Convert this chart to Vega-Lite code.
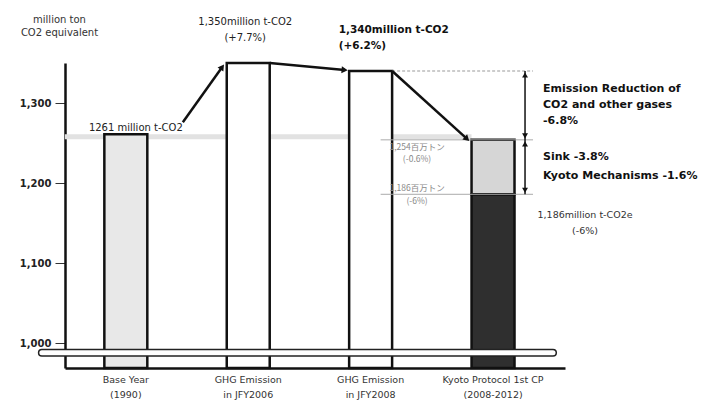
{
  "$schema": "https://vega.github.io/schema/vega-lite/v6.json",
  "width": 500,
  "height": 305,
  "autosize": {"type": "none"},
  "padding": {"left": 65, "top": 63, "right": 146, "bottom": 39},
  "background": "white",
  "config": {
    "view": {"stroke": null},
    "font": "DejaVu Sans"
  },
  "layer": [
    {
      "description": "faint band at the base-year level",
      "data": {"values": [{"level": 1258}]},
      "mark": {"type": "rule", "color": "#e2e2e2", "strokeWidth": 5, "xOffset": -61, "x2Offset": -21.5},
      "encoding": {
        "x": {"datum": "base", "type": "nominal"},
        "x2": {"datum": "kyoto"},
        "y": {"field": "level", "type": "quantitative"}
      }
    },
    {
      "description": "emission bars",
      "data": {
        "values": [
          {"cat": "base", "value": 1261, "part": "base"},
          {"cat": "fy2006", "value": 1350, "part": "actual"},
          {"cat": "fy2008", "value": 1340, "part": "actual"},
          {"cat": "kyoto", "value": 1186, "part": "target"}
        ]
      },
      "mark": {"type": "bar", "stroke": "#111", "strokeWidth": 2.5},
      "encoding": {
        "x": {
          "field": "cat",
          "type": "nominal",
          "sort": null,
          "scale": {
            "domain": ["base", "fy2006", "fy2008", "kyoto"],
            "paddingInner": 0.649,
            "paddingOuter": 0.367,
            "align": 0.438
          },
          "axis": {
            "title": null,
            "ticks": false,
            "labelAngle": 0,
            "labelAlign": "center",
            "labelBaseline": "top",
            "labelExpr": "datum.value == 'base' ? ['Base Year', '(1990)'] : datum.value == 'fy2006' ? ['GHG Emission', 'in JFY2006'] : datum.value == 'fy2008' ? ['GHG Emission', 'in JFY2008'] : ['Kyoto Protocol 1st CP', '(2008-2012)']",
            "labelFont": "DejaVu Sans",
            "labelFontSize": 9.5,
            "labelColor": "#333",
            "labelPadding": 6,
            "labelLineHeight": 15,
            "domainColor": "#111",
            "domainWidth": 2.5
          }
        },
        "y": {
          "field": "value",
          "type": "quantitative",
          "scale": {"domain": [969, 1350], "zero": false, "nice": false},
          "axis": {
            "values": [1000, 1100, 1200, 1300],
            "format": ",.0f",
            "grid": false,
            "labelFont": "DejaVu Sans",
            "labelFontSize": 10,
            "labelFontWeight": "bold",
            "labelColor": "#222",
            "labelPadding": 4,
            "tickSize": 10,
            "tickColor": "#333",
            "tickWidth": 1,
            "domainColor": "#111",
            "domainWidth": 2.5,
            "title": ["million ton", "CO2 equivalent"],
            "titleAngle": 0,
            "titleAlign": "center",
            "titleBaseline": "top",
            "titleX": -6,
            "titleY": -49,
            "titleFont": "DejaVu Sans",
            "titleFontSize": 10,
            "titleFontWeight": "normal",
            "titleColor": "#333",
            "titleLineHeight": 13
          }
        },
        "y2": {"datum": 969},
        "fill": {
          "field": "part",
          "type": "nominal",
          "scale": {"domain": ["base", "actual", "target"], "range": ["#e8e8e8", "#ffffff", "#2f2f2f"]},
          "legend": null
        }
      }
    },
    {
      "description": "sinks and Kyoto mechanisms segment",
      "data": {"values": [{"cat": "kyoto", "from": 1186, "to": 1254}]},
      "mark": {"type": "bar", "fill": "#d6d6d6", "stroke": "#111", "strokeWidth": 2.5},
      "encoding": {
        "x": {"field": "cat", "type": "nominal"},
        "y": {"field": "to", "type": "quantitative"},
        "y2": {"field": "from"}
      }
    },
    {
      "description": "dashed guide at the 2008 level",
      "data": {"values": [{"level": 1340}]},
      "mark": {"type": "rule", "color": "#999", "strokeWidth": 1, "strokeDash": [3, 2], "xOffset": 21.5, "x2Offset": 40},
      "encoding": {
        "x": {"datum": "fy2008", "type": "nominal"},
        "x2": {"datum": "kyoto"},
        "y": {"field": "level", "type": "quantitative"}
      }
    },
    {
      "description": "thin guides at the target levels",
      "data": {"values": [{"level": 1254}, {"level": 1186}]},
      "mark": {"type": "rule", "color": "#aaa", "strokeWidth": 1, "xOffset": 10, "x2Offset": 40},
      "encoding": {
        "x": {"datum": "fy2008", "type": "nominal"},
        "x2": {"datum": "kyoto"},
        "y": {"field": "level", "type": "quantitative"}
      }
    },
    {
      "description": "arrow from the base-year label",
      "data": {"values": [{"from": "base", "v0": 1261, "to": "fy2006", "v1": 1350}]},
      "mark": {"type": "rule", "color": "#111", "strokeWidth": 2.5, "xOffset": 57, "yOffset": -12, "x2Offset": -26, "y2Offset": 4},
      "encoding": {
        "x": {"field": "from", "type": "nominal"},
        "x2": {"field": "to"},
        "y": {"field": "v0", "type": "quantitative"},
        "y2": {"field": "v1"}
      }
    },
    {
      "description": "connectors between bar tops",
      "data": {
        "values": [
          {"from": "fy2006", "v0": 1350, "to": "fy2008", "v1": 1340},
          {"from": "fy2008", "v0": 1340, "to": "kyoto", "v1": 1254}
        ]
      },
      "mark": {"type": "rule", "color": "#111", "strokeWidth": 2.5, "xOffset": 21.5, "x2Offset": -26, "y2Offset": -1},
      "encoding": {
        "x": {"field": "from", "type": "nominal"},
        "x2": {"field": "to"},
        "y": {"field": "v0", "type": "quantitative"},
        "y2": {"field": "v1"}
      }
    },
    {
      "data": {"values": [{"cat": "fy2006", "v": 1350}]},
      "mark": {"type": "point", "shape": "triangle-up", "filled": true, "opacity": 1, "color": "#111", "size": 50, "angle": 35, "xOffset": -26, "yOffset": 4},
      "encoding": {
        "x": {"field": "cat", "type": "nominal"},
        "y": {"field": "v", "type": "quantitative"}
      }
    },
    {
      "data": {"values": [{"cat": "fy2008", "v": 1340}]},
      "mark": {"type": "point", "shape": "triangle-up", "filled": true, "opacity": 1, "color": "#111", "size": 50, "angle": 95, "xOffset": -26, "yOffset": -1},
      "encoding": {
        "x": {"field": "cat", "type": "nominal"},
        "y": {"field": "v", "type": "quantitative"}
      }
    },
    {
      "data": {"values": [{"cat": "kyoto", "v": 1254}]},
      "mark": {"type": "point", "shape": "triangle-up", "filled": true, "opacity": 1, "color": "#111", "size": 50, "angle": 132, "xOffset": -26, "yOffset": -1},
      "encoding": {
        "x": {"field": "cat", "type": "nominal"},
        "y": {"field": "v", "type": "quantitative"}
      }
    },
    {
      "description": "reduction brackets beside the target bar",
      "data": {"values": [{"cat": "kyoto", "top": 1340, "bottom": 1186}]},
      "mark": {"type": "rule", "color": "#111", "strokeWidth": 1.5, "xOffset": 32},
      "encoding": {
        "x": {"field": "cat", "type": "nominal"},
        "y": {"field": "top", "type": "quantitative"},
        "y2": {"field": "bottom"}
      }
    },
    {
      "data": {"values": [{"cat": "kyoto", "v": 1340}, {"cat": "kyoto", "v": 1254}]},
      "mark": {"type": "point", "shape": "triangle-up", "filled": true, "opacity": 1, "color": "#111", "size": 35, "xOffset": 32, "yOffset": 4},
      "encoding": {
        "x": {"field": "cat", "type": "nominal"},
        "y": {"field": "v", "type": "quantitative"}
      }
    },
    {
      "data": {"values": [{"cat": "kyoto", "v": 1254}, {"cat": "kyoto", "v": 1186}]},
      "mark": {"type": "point", "shape": "triangle-down", "filled": true, "opacity": 1, "color": "#111", "size": 35, "xOffset": 32, "yOffset": -4},
      "encoding": {
        "x": {"field": "cat", "type": "nominal"},
        "y": {"field": "v", "type": "quantitative"}
      }
    },
    {
      "data": {"values": [{"cat": "base", "v": 1261, "label": "1261 million t-CO2"}]},
      "mark": {"type": "text", "font": "DejaVu Sans", "fontSize": 10, "color": "#222", "align": "center", "baseline": "alphabetic", "dx": 10, "dy": -3},
      "encoding": {
        "x": {"field": "cat", "type": "nominal"},
        "y": {"field": "v", "type": "quantitative"},
        "text": {"field": "label"}
      }
    },
    {
      "data": {"values": [{"cat": "fy2006", "v": 1350, "label": "1,350million t-CO2\n(+7.7%)"}]},
      "mark": {"type": "text", "font": "DejaVu Sans", "fontSize": 10, "color": "#222", "align": "center", "baseline": "alphabetic", "lineBreak": "\n", "lineHeight": 16, "dx": -3, "dy": -38},
      "encoding": {
        "x": {"field": "cat", "type": "nominal"},
        "y": {"field": "v", "type": "quantitative"},
        "text": {"field": "label"}
      }
    },
    {
      "data": {"values": [{"cat": "fy2008", "v": 1340, "label": "1,340million t-CO2\n(+6.2%)"}]},
      "mark": {"type": "text", "font": "DejaVu Sans", "fontSize": 10.5, "fontWeight": "bold", "color": "#111", "align": "left", "baseline": "alphabetic", "lineBreak": "\n", "lineHeight": 16, "dx": -32, "dy": -38},
      "encoding": {
        "x": {"field": "cat", "type": "nominal"},
        "y": {"field": "v", "type": "quantitative"},
        "text": {"field": "label"}
      }
    },
    {
      "data": {"values": [{"cat": "kyoto", "v": 1340, "label": "Emission Reduction of\nCO2 and other gases\n-6.8%"}]},
      "mark": {"type": "text", "font": "DejaVu Sans", "fontSize": 11, "fontWeight": "bold", "color": "#111", "align": "left", "baseline": "alphabetic", "lineBreak": "\n", "lineHeight": 16, "dx": 50, "dy": 21},
      "encoding": {
        "x": {"field": "cat", "type": "nominal"},
        "y": {"field": "v", "type": "quantitative"},
        "text": {"field": "label"}
      }
    },
    {
      "data": {"values": [{"cat": "kyoto", "v": 1254, "label": "Sink -3.8%\nKyoto Mechanisms -1.6%"}]},
      "mark": {"type": "text", "font": "DejaVu Sans", "fontSize": 11, "fontWeight": "bold", "color": "#111", "align": "left", "baseline": "alphabetic", "lineBreak": "\n", "lineHeight": 19, "dx": 50, "dy": 20},
      "encoding": {
        "x": {"field": "cat", "type": "nominal"},
        "y": {"field": "v", "type": "quantitative"},
        "text": {"field": "label"}
      }
    },
    {
      "data": {"values": [{"cat": "kyoto", "v": 1186, "label": "1,186million t-CO2e\n(-6%)"}]},
      "mark": {"type": "text", "font": "DejaVu Sans", "fontSize": 9.5, "color": "#333", "align": "center", "baseline": "alphabetic", "lineBreak": "\n", "lineHeight": 16, "dx": 92, "dy": 24},
      "encoding": {
        "x": {"field": "cat", "type": "nominal"},
        "y": {"field": "v", "type": "quantitative"},
        "text": {"field": "label"}
      }
    },
    {
      "data": {"values": [{"cat": "kyoto", "v": 1254, "label": "1,254百万トン\n(-0.6%)"}]},
      "mark": {"type": "text", "font": "Noto Sans CJK JP", "fontSize": 8.5, "color": "#888", "align": "center", "baseline": "alphabetic", "lineBreak": "\n", "lineHeight": 12, "dx": -76, "dy": 10},
      "encoding": {
        "x": {"field": "cat", "type": "nominal"},
        "y": {"field": "v", "type": "quantitative"},
        "text": {"field": "label"}
      }
    },
    {
      "data": {"values": [{"cat": "kyoto", "v": 1186, "label": "1,186百万トン\n(-6%)"}]},
      "mark": {"type": "text", "font": "Noto Sans CJK JP", "fontSize": 8.5, "color": "#888", "align": "center", "baseline": "alphabetic", "lineBreak": "\n", "lineHeight": 13, "dx": -76, "dy": -3},
      "encoding": {
        "x": {"field": "cat", "type": "nominal"},
        "y": {"field": "v", "type": "quantitative"},
        "text": {"field": "label"}
      }
    },
    {
      "description": "axis break: dark outline",
      "data": {"values": [{"v": 988}]},
      "mark": {"type": "rule", "color": "#222", "strokeWidth": 8, "strokeCap": "round", "xOffset": -84, "x2Offset": 60},
      "encoding": {
        "x": {"datum": "base", "type": "nominal"},
        "x2": {"datum": "kyoto"},
        "y": {"field": "v", "type": "quantitative"}
      }
    },
    {
      "description": "axis break: white gap",
      "data": {"values": [{"v": 988}]},
      "mark": {"type": "rule", "color": "#ffffff", "strokeWidth": 5, "strokeCap": "round", "xOffset": -84, "x2Offset": 60},
      "encoding": {
        "x": {"datum": "base", "type": "nominal"},
        "x2": {"datum": "kyoto"},
        "y": {"field": "v", "type": "quantitative"}
      }
    }
  ]
}
